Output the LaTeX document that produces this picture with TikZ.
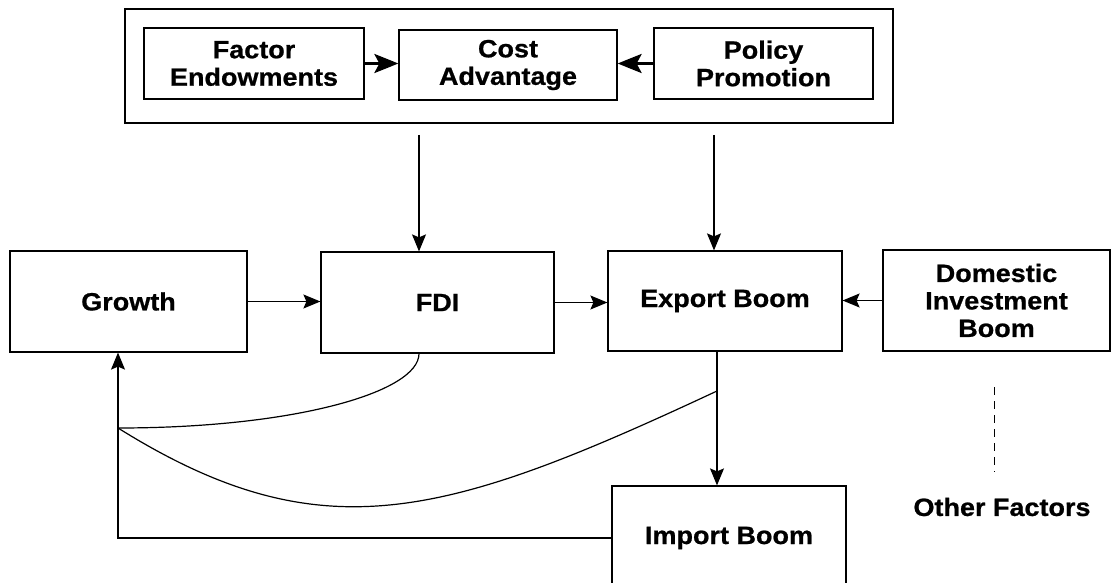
\documentclass[tikz,border=0pt]{standalone}
\usepackage{fontspec}
\newfontfamily\diagfont{Liberation Sans}[FakeStretch=1.08, BoldFeatures={FakeBold=0.8}]
\usetikzlibrary{arrows.meta}

\begin{document}
\begin{tikzpicture}[x=1pt, y=-1pt,
  box/.style={draw, line width=1.2pt, align=center, inner sep=0pt, font=\diagfont\bfseries\fontsize{25}{27.5}\selectfont},
  flow/.style={line width=1.2pt, -{Stealth[length=17pt,width=14pt,inset=3pt]}},
  push/.style={line width=3pt, -{Stealth[length=24pt,width=19pt,inset=5pt]}}]
\useasboundingbox (0,0) rectangle (1112,583);
% top frame
\node[box, minimum width=768pt, minimum height=114pt] (frame) at (509,66) {};
\node[box, minimum width=220pt, minimum height=71pt] (factor) at (254,63.5) {Factor\\Endowments};
\node[box, minimum width=218pt, minimum height=70pt] (cost) at (508,65) {Cost\\Advantage};
\node[box, minimum width=219pt, minimum height=71pt] (policy) at (763.5,63.5) {Policy\\Promotion};
\draw[push] (factor.east) -- (factor.east -| cost.west);
\draw[push] (policy.west) -- (policy.west -| cost.east);
% main row
\node[box, minimum width=237pt, minimum height=101pt] (growth) at (128.5,301.5) {Growth};
\node[box, minimum width=233pt, minimum height=101pt] (fdi) at (437.5,302.5) {FDI};
\node[box, minimum width=234pt, minimum height=100pt] (export) at (725,301) {Export Boom};
\node[box, minimum width=227pt, minimum height=101pt] (domestic) at (996.5,300.5) {Domestic\\Investment\\Boom};
\node[box, minimum width=234pt, minimum height=104pt] (import) at (729,538) {Import Boom};
\node[box, draw=none] (other) at (1002,507) {Other Factors};
\coordinate (fdiin) at (419,135);
\coordinate (expin) at (714,135);
\coordinate (jn) at (118,428);
\coordinate (tap) at (717,391);
\coordinate (dtop) at (994,387);
\coordinate (dbot) at (994,472);
\draw[flow] (fdiin) -- (fdiin |- fdi.north);
\draw[flow] (expin) -- (expin |- export.north);
\draw[flow] (growth.east) -- (growth.east -| fdi.west);
\draw[flow] (fdi.east) -- (fdi.east -| export.west);
\draw[flow] (domestic.west) -- (domestic.west -| export.east);
\draw[flow] (tap |- export.south) -- (tap |- import.north);
\draw[flow] (import.west) -| (jn |- growth.south);
% feedback curves
\draw[line width=1.2pt] (fdiin |- fdi.south) .. controls (419,392) and (295,428) .. (jn);
\draw[line width=1.2pt] (tap) .. controls (445,518) and (321.5,555) .. (jn);
\draw[line width=0.8pt, dash pattern=on 8pt off 6pt] (dtop) -- (dbot);
\end{tikzpicture}
\end{document}
